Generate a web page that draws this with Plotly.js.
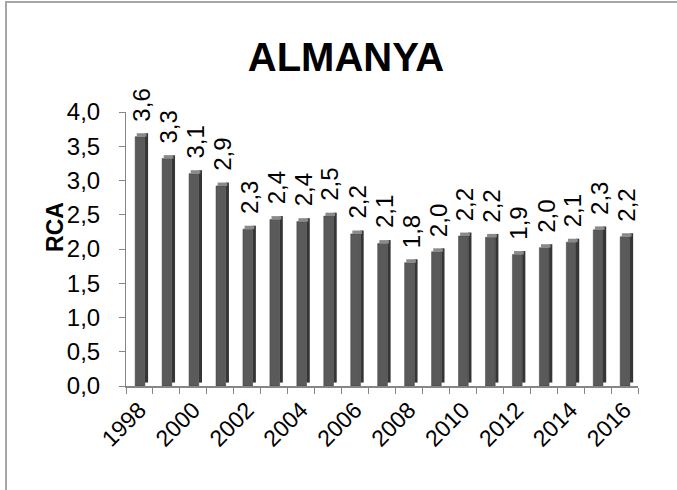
<!DOCTYPE html>
<html>
<head>
<meta charset="utf-8">
<script src="https://cdn.plot.ly/plotly-3.0.1.min.js"></script>
<style>
  html, body { margin: 0; padding: 0; background: #fff; }
  #wrap { position: relative; width: 677px; height: 490px; }
  #chart { width: 677px; height: 490px; }
  #frame { position: absolute; left: 5px; top: 1px; width: 680px; height: 500px;
           border-left: 2px solid #a6a6a6; border-top: 2px solid #a6a6a6; pointer-events: none; }
</style>
</head>
<body>
<div id="wrap">
  <div id="chart"></div>
  <div id="frame"></div>
</div>
<script>
const years = ["1998","1999","2000","2001","2002","2003","2004","2005","2006","2007",
               "2008","2009","2010","2011","2012","2013","2014","2015","2016"];
const rca = [3.64, 3.32, 3.10, 2.92, 2.29, 2.43, 2.40, 2.48, 2.22, 2.08,
             1.80, 1.96, 2.19, 2.17, 1.92, 2.02, 2.10, 2.28, 2.18];
const tickText = years.map((y, i) => (i % 2 === 0 ? y : ""));
const labels = rca.map(v => v.toFixed(1).replace(".", ","));

const FONT = "Liberation Sans, Arial, sans-serif";

const sideFace = {
  type: "bar", x: years, y: rca, base: 0.05,
  width: 0.12, offset: 0.2,
  marker: { color: "#353535" }, hoverinfo: "skip", showlegend: false
};
const topFace = {
  type: "bar", x: years, y: rca.map(() => 0.05), base: rca,
  width: 0.36, offset: -0.1,
  marker: { color: "#8a8a8a" }, hoverinfo: "skip", showlegend: false
};
const frontFace = {
  type: "bar", x: years, y: rca,
  width: 0.36, offset: -0.16,
  marker: { color: "#5a5a5a", line: { color: "#3c3c3c", width: 0.5 } },
  showlegend: false
};
// invisible trace carrying the axis that shows the y tick labels
const labelAxisCarrier = {
  type: "scatter", mode: "markers", x: years, y: rca, yaxis: "y2",
  marker: { opacity: 0 }, hoverinfo: "skip", showlegend: false
};

// category index is used as x so numeric-looking year strings are not read as indices
const annotations = years.map((yr, i) => ({
  x: i, y: rca[i], xref: "x", yref: "y",
  text: labels[i], showarrow: false, textangle: -90,
  yanchor: "bottom", xanchor: "center", yshift: 13, xshift: 2,
  font: { family: FONT, size: 24, color: "#000" }
}));
// y-axis title
annotations.push({
  xref: "paper", yref: "paper", x: -0.139, y: 0.58,
  text: "<b>RCA</b>", showarrow: false, textangle: -90,
  xanchor: "center", yanchor: "middle",
  font: { family: FONT, size: 23, color: "#000" }
});

const layout = {
  width: 677, height: 490,
  margin: { l: 126, r: 39, t: 112, b: 104 },
  paper_bgcolor: "#fff", plot_bgcolor: "#fff",
  separators: ",.",
  barmode: "overlay",
  showlegend: false,
  title: {
    text: "<b>ALMANYA</b>",
    font: { family: FONT, size: 40, color: "#000" },
    x: 0.511, xanchor: "center", y: 0.883, yanchor: "middle"
  },
  xaxis: {
    type: "category",
    range: [-0.5, 18.5],
    tickmode: "array", tickvals: years, ticktext: tickText,
    tickson: "boundaries",
    ticks: "outside", ticklen: 6, tickcolor: "#868686",
    showline: true, linecolor: "#868686", linewidth: 1.5,
    tickangle: -45,
    tickfont: { family: FONT, size: 23, color: "#000" },
    showgrid: false, zeroline: false, fixedrange: true
  },
  yaxis: {
    range: [0, 4], dtick: 0.5, tick0: 0,
    ticks: "outside", ticklen: 6, tickcolor: "#868686",
    showline: true, linecolor: "#868686", linewidth: 1.5,
    showticklabels: false,
    showgrid: false, zeroline: false
  },
  yaxis2: {
    overlaying: "y", side: "left",
    range: [0, 4], dtick: 0.5, tick0: 0, tickformat: ".1f",
    ticks: "outside", ticklen: 20, tickcolor: "rgba(0,0,0,0)",
    showline: false, showgrid: false, zeroline: false,
    tickfont: { family: FONT, size: 24, color: "#000" }
  },
  annotations: annotations
};

Plotly.newPlot("chart", [sideFace, frontFace, topFace, labelAxisCarrier], layout,
  { displayModeBar: false, staticPlot: true });
</script>
</body>
</html>
